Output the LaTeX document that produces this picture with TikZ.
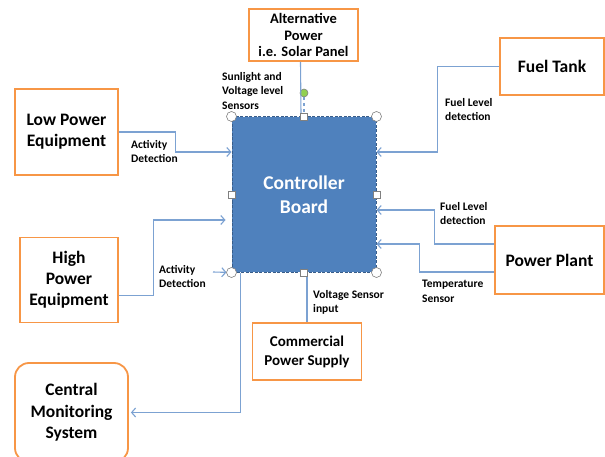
\documentclass[tikz,border=0pt]{standalone}
\usepackage{fontspec}
\setmainfont{Carlito}
\usetikzlibrary{arrows.meta}

\definecolor{boxorange}{RGB}{247,150,70}
\definecolor{wireblue}{RGB}{124,162,210}
\definecolor{boardfill}{RGB}{79,129,189}
\definecolor{boardedge}{RGB}{56,93,138}
\definecolor{rotgreen}{RGB}{146,208,80}

\begin{document}
\begin{tikzpicture}[x=1pt,y=-1pt,
  unit/.style={draw=boxorange,line width=1.8pt,fill=white,align=center,inner sep=0pt},
  wire/.style={draw=wireblue,line width=1.1pt},
  link/.style={wire,-{Straight Barb[length=4pt,width=9pt]}},
  note/.style={anchor=north west,align=left,inner sep=0pt,font=\fontsize{11.5}{14.5}\selectfont\bfseries},
  handle/.style={draw=gray,fill=white,line width=0.6pt,inner sep=0pt}]

\useasboundingbox (0,0) rectangle (605,457);

% blocks
\node[unit,minimum width=109pt,minimum height=52pt,font=\fontsize{14.5}{16.5}\selectfont\bfseries] (solar) at (303.5,35) {Alternative\\Power\\i.e. Solar Panel};
\node[unit,minimum width=103pt,minimum height=86pt,font=\fontsize{17.5}{21}\selectfont\bfseries] (lowpow) at (66.5,132) {Low Power\\Equipment};
\node[unit,minimum width=98pt,minimum height=85pt,font=\fontsize{17.5}{21}\selectfont\bfseries] (highpow) at (69,280) {High\\Power\\Equipment};
\node[unit,rounded corners=14pt,minimum width=113pt,minimum height=99pt,font=\fontsize{17.5}{21.5}\selectfont\bfseries] (cms) at (71.5,412.5) {Central\\Monitoring\\System};
\node[unit,minimum width=109pt,minimum height=57pt,font=\fontsize{15}{19}\selectfont\bfseries] (mains) at (307,351.5) {Commercial\\Power Supply};
\node[unit,minimum width=104pt,minimum height=57pt,font=\fontsize{17.5}{21}\selectfont\bfseries] (tank) at (552,66.5) {Fuel Tank};
\node[unit,minimum width=109pt,minimum height=68pt,font=\fontsize{17.5}{21}\selectfont\bfseries] (plant) at (549.5,260) {Power Plant};

\node[draw=boardedge,dash pattern=on 3pt off 1.5pt,fill=boardfill,line width=1pt,minimum width=144pt,minimum height=155pt,
  text=white,align=center,font=\fontsize{19.5}{24}\selectfont\bfseries] (board) at (304,194.5) {Controller\\Board};

% wiring
\node[handle,circle,fill=rotgreen,minimum size=8pt] (rot) at (304,93) {};
\draw[wire] ([xshift=-3pt]solar.south) -- ([xshift=-3pt,yshift=2pt]board.north);
\draw[wire,dashed] (rot) -- (board.north);
\draw[link] (lowpow.east) -- ++(57,0) |- ([yshift=42.5pt]board.west);
\draw[link,shorten >=6pt] ([yshift=-15.5pt]highpow.east) -- ++(35,0) |- ([yshift=-25.5pt]board.west);
\coordinate (stub) at (213,272);
\draw[link,shorten >=5pt] (stub) -- (board.south west);
\draw[link,shorten >=2pt] ([xshift=9pt]board.south west) |- (cms.east);
\draw[wire] (mains.north) -- (mains.north |- board.south);
\draw[link] (tank.west) -- ++(-62,0) |- ([yshift=42.5pt]board.east);
\draw[link] ([yshift=16pt]plant.west) -- ++(-60,0) |- ([yshift=-15.5pt]board.east);
\draw[link] ([yshift=-12pt]plant.west) -- ++(-75,0) |- ([yshift=-49.5pt]board.east);

% selection handles
\foreach \a in {north west,north east,south west,south east}
  \node[handle,circle,minimum size=10pt] at (board.\a) {};
\foreach \a in {north,south,east,west}
  \node[handle,minimum size=7pt] at (board.\a) {};

% signal labels
\node[note] (sun) at (222,72) {Sunlight and\\Voltage level\\Sensors};
\node[note] (act1) at (131,140) {Activity\\Detection};
\node[note] (act2) at (159,265) {Activity\\Detection};
\node[note] (volt) at (313,290) {Voltage Sensor\\input};
\node[note] (lvl1) at (445,98) {Fuel Level\\detection};
\node[note] (lvl2) at (440,202) {Fuel Level\\detection};
\node[note] (temp) at (422,280) {Temperature\\Sensor};

\end{tikzpicture}
\end{document}
